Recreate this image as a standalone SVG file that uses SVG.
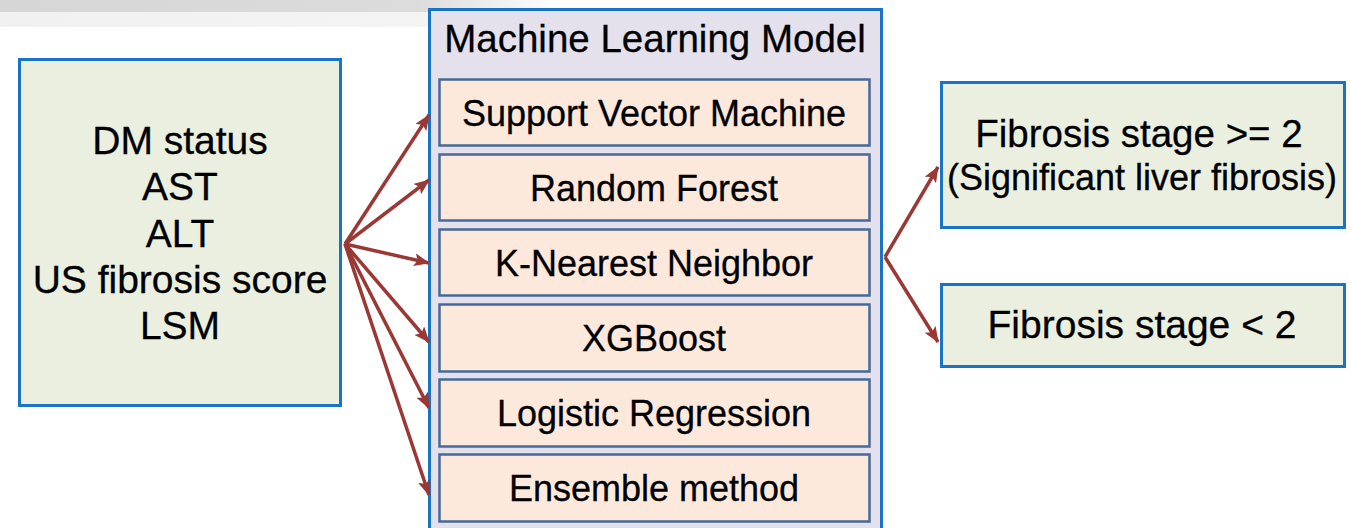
<svg xmlns="http://www.w3.org/2000/svg" width="1351" height="528" viewBox="0 0 1351 528">
<defs>
<linearGradient id="topfade" x1="0" y1="0" x2="1" y2="0">
<stop offset="0" stop-color="#d6d6d6"/>
<stop offset="0.75" stop-color="#dcdcdc"/>
<stop offset="1" stop-color="#ffffff"/>
</linearGradient>
<linearGradient id="topfade2" x1="0" y1="0" x2="1" y2="0">
<stop offset="0" stop-color="#f1f1f1"/>
<stop offset="0.75" stop-color="#f4f4f4"/>
<stop offset="1" stop-color="#ffffff"/>
</linearGradient>
<marker id="ah" viewBox="0 0 16 13" refX="15" refY="6.5" markerWidth="16" markerHeight="13" markerUnits="userSpaceOnUse" orient="auto">
<path d="M0,0 L16,6.5 L0,13 L3.5,6.5 z" fill="#9a3835"/>
</marker>
</defs>
<style>
.txt{font-family:"Liberation Sans",Arial,sans-serif;fill:#000;stroke:#000;stroke-width:0.3;text-anchor:middle}
.outer{stroke:#1a74c6;stroke-width:3}
.green{fill:#ebefdf}
.item{fill:#fde9db;stroke:#45699a;stroke-width:2.5}
.conn{stroke:#9a3835;stroke-width:3.5;fill:none;marker-end:url(#ah)}
</style>
<rect x="0" y="0" width="1351" height="528" fill="#ffffff"/>
<rect x="0" y="0" width="560" height="12" fill="url(#topfade)"/>
<rect x="0" y="12" width="560" height="15" fill="url(#topfade2)"/>

<g id="inputs">
<rect class="outer green" x="19.5" y="59.5" width="321" height="346"/>
<text class="txt" font-size="39" x="180" y="154">DM status</text>
<text class="txt" font-size="39" x="180" y="200">AST</text>
<text class="txt" font-size="39" x="180" y="247">ALT</text>
<text class="txt" font-size="39" x="180" y="293">US fibrosis score</text>
<text class="txt" font-size="39" x="180" y="339">LSM</text>
</g>

<g id="ml-model">
<rect class="outer" fill="#e4e0ec" x="429.5" y="9.5" width="452" height="530"/>
<text class="txt" font-size="38.5" x="655" y="52">Machine Learning Model</text>
</g>
<g id="svm">
<rect class="item" x="439.5" y="79.5" width="430" height="66"/>
<text class="txt" font-size="36" x="654" y="126">Support Vector Machine</text>
</g>
<g id="rf">
<rect class="item" x="439.5" y="154.5" width="430" height="66"/>
<text class="txt" font-size="36" x="654" y="201">Random Forest</text>
</g>
<g id="knn">
<rect class="item" x="439.5" y="229.5" width="430" height="66"/>
<text class="txt" font-size="36" x="654" y="276">K-Nearest Neighbor</text>
</g>
<g id="xgb">
<rect class="item" x="439.5" y="304.5" width="430" height="67"/>
<text class="txt" font-size="36" x="654" y="351">XGBoost</text>
</g>
<g id="lr">
<rect class="item" x="439.5" y="379.5" width="430" height="67"/>
<text class="txt" font-size="36" x="654" y="426">Logistic Regression</text>
</g>
<g id="ens">
<rect class="item" x="439.5" y="454.5" width="430" height="67"/>
<text class="txt" font-size="36" x="654" y="501">Ensemble method</text>
</g>

<g id="out-high">
<rect class="outer green" x="941.5" y="82.5" width="403" height="145"/>
<text class="txt" font-size="38.5" x="1139" y="147">Fibrosis stage &gt;= 2</text>
<text class="txt" font-size="36" x="1142" y="190">(Significant liver fibrosis)</text>
</g>
<g id="out-low">
<rect class="outer green" x="941.5" y="284.5" width="403" height="82"/>
<text class="txt" font-size="39" x="1142" y="338">Fibrosis stage &lt; 2</text>
</g>

<g id="connectors">
<line class="conn" x1="345" y1="244" x2="429" y2="115"/>
<line class="conn" x1="345" y1="244" x2="429" y2="180"/>
<line class="conn" x1="345" y1="244" x2="429" y2="263"/>
<line class="conn" x1="345" y1="244" x2="429" y2="342"/>
<line class="conn" x1="345" y1="244" x2="429" y2="408"/>
<line class="conn" x1="345" y1="244" x2="429" y2="495"/>
<line class="conn" x1="885" y1="257" x2="938" y2="167"/>
<line class="conn" x1="885" y1="257" x2="938" y2="342"/>
</g>
</svg>
